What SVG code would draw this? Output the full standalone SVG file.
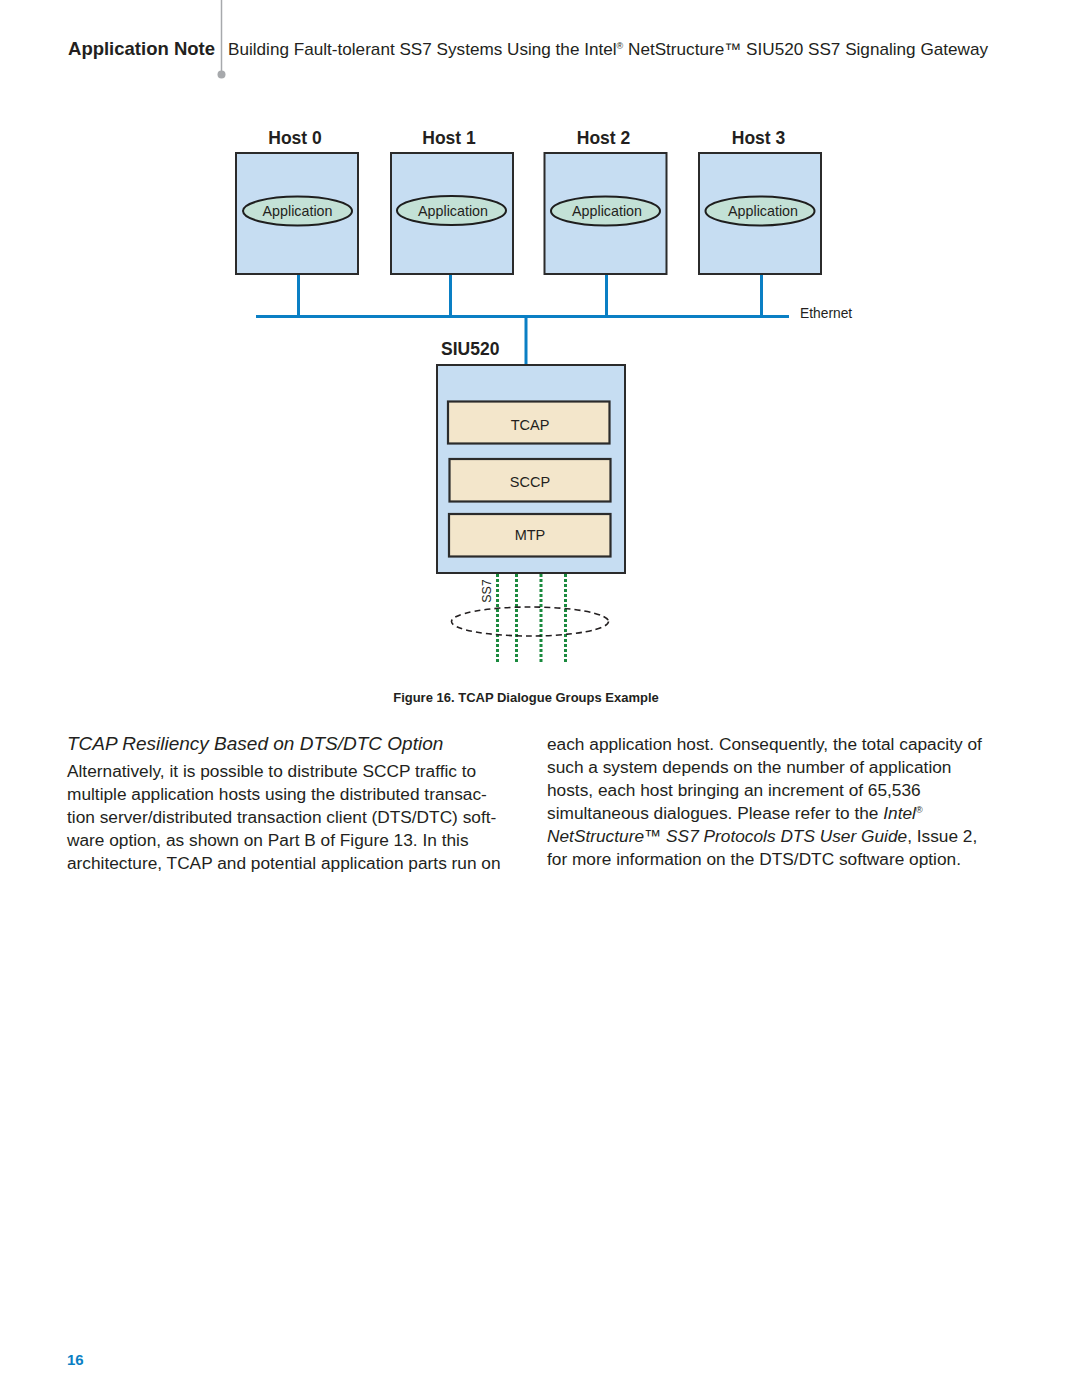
<svg xmlns="http://www.w3.org/2000/svg" width="1080" height="1397" viewBox="0 0 1080 1397">
<style>
text{font-family:"Liberation Sans",Arial,sans-serif;fill:#231f20}
.host{fill:#c6ddf2;stroke:#2b2b2b;stroke-width:2}
.app{fill:#c3e1d6;stroke:#1e1e1e;stroke-width:2}
.proto{fill:#f3e6cb;stroke:#2b2b2b;stroke-width:2.2}
.hl{font-size:17.5px;font-weight:bold;text-anchor:middle}
.al{font-size:14.3px;text-anchor:middle}
.pl{font-size:14.5px;text-anchor:middle}
.eth{stroke:#0a7fc4;stroke-width:3;fill:none}
.ss7{stroke:#1a8a3e;stroke-width:3;stroke-dasharray:3 2;fill:none}
.body{font-size:17.3px}
</style>
<rect width="1080" height="1397" fill="#ffffff"/>
<g id="header">
<line x1="221.5" y1="0" x2="221.5" y2="73" stroke="#a7a9ac" stroke-width="1.5"/>
<circle cx="221.5" cy="74.5" r="4" fill="#a7a9ac"/>
<text x="215" y="55" font-size="18.5" font-weight="bold" text-anchor="end">Application Note</text>
<text x="228" y="55" font-size="17" textLength="760" lengthAdjust="spacingAndGlyphs">Building Fault-tolerant SS7 Systems Using the Intel<tspan font-size="9" dy="-6">®</tspan><tspan dy="6"> NetStructure™ SIU520 SS7 Signaling Gateway</tspan></text>
</g>
<g id="connectors">
<line class="eth" x1="256" y1="316.5" x2="789" y2="316.5"/>
<line class="eth" x1="298.5" y1="274" x2="298.5" y2="316.5"/>
<line class="eth" x1="450.5" y1="274" x2="450.5" y2="316.5"/>
<line class="eth" x1="606.5" y1="274" x2="606.5" y2="316.5"/>
<line class="eth" x1="761.5" y1="274" x2="761.5" y2="316.5"/>
<line class="eth" x1="526" y1="316.5" x2="526" y2="364"/>
<line class="ss7" x1="497.5" y1="574" x2="497.5" y2="663"/>
<line class="ss7" x1="516.5" y1="574" x2="516.5" y2="663"/>
<line class="ss7" x1="541" y1="574" x2="541" y2="663"/>
<line class="ss7" x1="565.5" y1="574" x2="565.5" y2="663"/>
<ellipse cx="530" cy="621.5" rx="78.5" ry="14.5" fill="none" stroke="#231f20" stroke-width="1.6" stroke-dasharray="6 4"/>
<text x="0" y="0" font-size="12.5" text-anchor="middle" transform="translate(491,591) rotate(-90)">SS7</text>
<text x="800" y="318" font-size="13.8">Ethernet</text>
</g>
<g id="host0">
<text class="hl" x="295" y="144">Host 0</text>
<rect class="host" x="236" y="153" width="122" height="121"/>
<ellipse class="app" cx="297.5" cy="211" rx="54.5" ry="14.5"/>
<text class="al" x="297.5" y="216">Application</text>
</g>
<g id="host1">
<text class="hl" x="449" y="144">Host 1</text>
<rect class="host" x="391" y="153" width="122" height="121"/>
<ellipse class="app" cx="451.5" cy="210.5" rx="54.5" ry="14.5"/>
<text class="al" x="453" y="215.5">Application</text>
</g>
<g id="host2">
<text class="hl" x="603.5" y="144">Host 2</text>
<rect class="host" x="544.5" y="153" width="122" height="121"/>
<ellipse class="app" cx="605.5" cy="211" rx="54.5" ry="14.5"/>
<text class="al" x="607" y="215.5">Application</text>
</g>
<g id="host3">
<text class="hl" x="758.5" y="144">Host 3</text>
<rect class="host" x="699" y="153" width="122" height="121"/>
<ellipse class="app" cx="760" cy="211" rx="54.5" ry="14.5"/>
<text class="al" x="763" y="215.5">Application</text>
</g>
<g id="siu520">
<text x="441" y="355" font-size="17.5" font-weight="bold">SIU520</text>
<rect class="host" x="437" y="365" width="188" height="208"/>
</g>
<g id="tcap">
<rect class="proto" x="448" y="401.5" width="161.5" height="42"/>
<text class="pl" x="530" y="430">TCAP</text>
</g>
<g id="sccp">
<rect class="proto" x="449.5" y="459" width="161" height="42.5"/>
<text class="pl" x="530" y="486.5">SCCP</text>
</g>
<g id="mtp">
<rect class="proto" x="449" y="514" width="161.5" height="42.5"/>
<text class="pl" x="530" y="540">MTP</text>
</g>
<g id="caption">
<text x="526" y="701.5" font-size="13" font-weight="bold" text-anchor="middle">Figure 16. TCAP Dialogue Groups Example</text>
</g>
<g id="leftcol">
<text x="67" y="750" font-size="19" font-style="italic">TCAP Resiliency Based on DTS/DTC Option</text>
<text class="body" x="67" y="777">Alternatively, it is possible to distribute SCCP traffic to</text>
<text class="body" x="67" y="800">multiple application hosts using the distributed transac-</text>
<text class="body" x="67" y="823">tion server/distributed transaction client (DTS/DTC) soft-</text>
<text class="body" x="67" y="846">ware option, as shown on Part B of Figure 13. In this</text>
<text class="body" x="67" y="869">architecture, TCAP and potential application parts run on</text>
</g>
<g id="rightcol">
<text class="body" x="547" y="750">each application host. Consequently, the total capacity of</text>
<text class="body" x="547" y="773">such a system depends on the number of application</text>
<text class="body" x="547" y="796">hosts, each host bringing an increment of 65,536</text>
<text class="body" x="547" y="819">simultaneous dialogues. Please refer to the <tspan font-style="italic">Intel</tspan><tspan font-size="9" dy="-6">®</tspan></text>
<text class="body" x="547" y="842"><tspan font-style="italic">NetStructure™ SS7 Protocols DTS User Guide</tspan>, Issue 2,</text>
<text class="body" x="547" y="865">for more information on the DTS/DTC software option.</text>
</g>
<g id="page">
<text x="67" y="1365" font-size="15" font-weight="bold" style="fill:#0a7fc4">16</text>
</g>
</svg>
